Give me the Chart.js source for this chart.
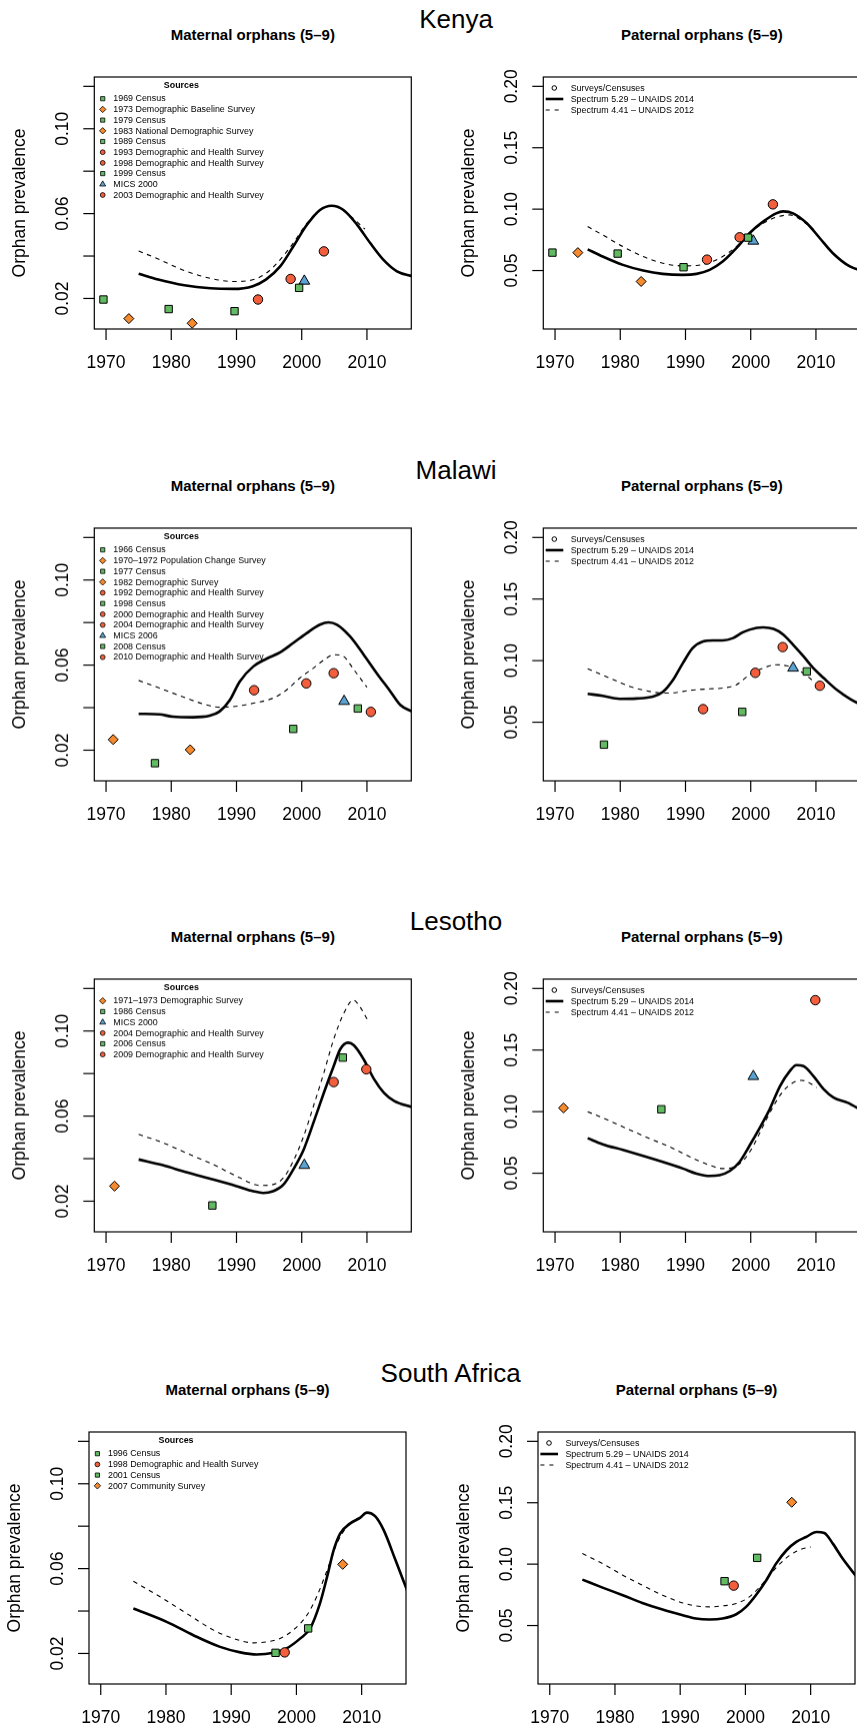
<!DOCTYPE html>
<html>
<head>
<meta charset="utf-8">
<script src="https://cdn.jsdelivr.net/npm/chart.js@4.4.1/dist/chart.umd.min.js"></script>
<style>
html,body{margin:0;padding:0;width:857px;height:1728px;overflow:hidden;background:#fff;}
body{position:relative;font-family:"Liberation Sans",Arial,Helvetica,sans-serif;}
canvas{position:absolute;}
.ttl{position:absolute;transform:translate(-50%,-50%);white-space:nowrap;color:#000;}
.country{font-size:26px;line-height:26px;}
.sub{font-size:15px;line-height:15px;font-weight:bold;}
</style>
</head>
<body>
<script>
// ---------------- DATA ----------------
const xTickYears = [1970, 1980, 1990, 2000, 2010];
const maternalTicks = [0.02, 0.04, 0.06, 0.08, 0.10, 0.12];
const maternalTickLabels = [0.02, 0.06, 0.10];
const paternalTicks = [0.05, 0.10, 0.15, 0.20];
const paternalTickLabels = [0.05, 0.10, 0.15, 0.20];
const countries = ['Kenya', 'Malawi', 'Lesotho', 'South Africa'];
const panelTitles = ['Maternal orphans (5–9)', 'Paternal orphans (5–9)'];
const modelLegend = ['Surveys/Censuses', 'Spectrum 5.29 – UNAIDS 2014', 'Spectrum 4.41 – UNAIDS 2012'];

// Kenya
const kenyaSources = ['1969 Census','1973 Demographic Baseline Survey','1979 Census','1983 National Demographic Survey','1989 Census','1993 Demographic and Health Survey','1998 Demographic and Health Survey','1999 Census','MICS 2000','2003 Demographic and Health Survey'];
const kenyaSourceTypes = ['census','survey','census','survey','census','dhs','dhs','census','mics','dhs'];
const kenyaSourceYears = [1969.6,1973.5,1979.6,1983.2,1989.7,1993.3,1998.3,1999.6,2000.4,2003.4];
const kenyaMaternalObs = [0.0195,0.0105,0.015,0.0083,0.014,0.0195,0.0292,0.025,0.0282,0.0422];
const kenyaPaternalObs = [0.0646,0.0646,0.0638,0.0411,0.0527,0.0589,0.0771,0.0768,0.074,0.1039];
const kenyaMatSolidYears = [1975,1978,1982,1986,1989.5,1992.5,1994.5,1996.7,1998.7,2000.8,2002.8,2004.6,2006.4,2008.5,2010.5,2012.5,2014.6,2017];
const kenyaMatSolid = [0.0317,0.0289,0.0262,0.0248,0.0245,0.0258,0.0289,0.0351,0.0445,0.0547,0.0617,0.0637,0.0617,0.0547,0.0461,0.0383,0.0328,0.0304];
const kenyaMatDashYears = [1975,1978.2,1982.3,1986.4,1989.5,1992.6,1994.6,1996.7,1998.7,2000.8,2002.8,2004.8,2006.8,2009.7];
const kenyaMatDash = [0.0424,0.0383,0.0328,0.0292,0.028,0.0289,0.032,0.0383,0.0461,0.0555,0.0617,0.0637,0.0605,0.0527];
const kenyaPatSolidYears = [1975,1977.3,1980.4,1983.5,1986.5,1989.6,1991.7,1993.7,1995.7,1997.8,1999.8,2001.9,2003.9,2005,2006.5,2008.6,2010.6,2012.6,2015.2,2017];
const kenyaPatSolid = [0.0673,0.0614,0.0546,0.05,0.0473,0.0465,0.0473,0.0505,0.0573,0.0682,0.0804,0.0898,0.0966,0.0982,0.0966,0.0885,0.0763,0.0641,0.0533,0.05];
const kenyaPatDashYears = [1975,1977.3,1980.4,1983.5,1986.5,1989.6,1991.7,1993.7,1995.7,1997.8,1999.8,2001.9,2003.9,2006,2008.1,2009.6];
const kenyaPatDash = [0.0858,0.079,0.0695,0.0614,0.056,0.0538,0.0541,0.0565,0.0614,0.0695,0.0804,0.0885,0.0934,0.0953,0.0898,0.0836];

// Malawi
const malawiSources = ['1966 Census','1970–1972 Population Change Survey','1977 Census','1982 Demographic Survey','1992 Demographic and Health Survey','1998 Census','2000 Demographic and Health Survey','2004 Demographic and Health Survey','MICS 2006','2008 Census','2010 Demographic and Health Survey'];
const malawiSourceTypes = ['census','survey','census','survey','dhs','census','dhs','dhs','mics','census','dhs'];
const malawiSourceYears = [1966,1971.1,1977.5,1982.9,1992.7,1998.7,2000.7,2004.9,2006.5,2008.6,2010.6];
const malawiMaternalObs = [null,0.025,0.0139,0.0202,0.0482,0.030,0.0514,0.0562,0.043,0.0396,0.038];
const malawiPaternalObs = [null,null,0.0318,null,0.0606,0.0584,0.0901,0.111,0.094,0.0912,0.0796];
const malawiMatSolidYears = [1975,1978.2,1980.2,1983.3,1985.9,1987.4,1989,1990.5,1992.6,1994.6,1996.7,1998.7,2000.8,2002.8,2004.1,2005.4,2007.4,2009.5,2011.5,2013.6,2015.1,2017];
const malawiMatSolid = [0.0371,0.0368,0.0358,0.0355,0.0362,0.0382,0.0437,0.0523,0.0594,0.063,0.066,0.0704,0.0751,0.079,0.0801,0.079,0.0735,0.0649,0.0562,0.0476,0.0413,0.038];
const malawiMatDashYears = [1975,1978.2,1982.3,1985.4,1987.4,1989.5,1992.6,1995.6,1997.7,1999.7,2001.8,2003.8,2004.9,2006.4,2008,2010];
const malawiMatDash = [0.0528,0.0492,0.0445,0.0413,0.0402,0.0405,0.0421,0.0445,0.0484,0.0539,0.0586,0.0633,0.0649,0.0641,0.0578,0.0496];
const malawiPatSolidYears = [1975,1977.3,1979.9,1982.5,1985,1986.5,1988.1,1989.6,1991.1,1992.7,1994.2,1995.7,1997.3,1998.8,2000.9,2001.9,2003.5,2005,2006.5,2008.1,2009.6,2011.2,2013.2,2015.3,2017];
const malawiPatSolid = [0.0731,0.0714,0.069,0.0693,0.0709,0.0744,0.0844,0.098,0.1102,0.1156,0.1164,0.1164,0.1183,0.123,0.1265,0.127,0.1257,0.1211,0.1129,0.1034,0.0939,0.0858,0.0763,0.0687,0.064];
const malawiPatDashYears = [1975,1978.4,1981.5,1984.5,1986.5,1988.6,1990.6,1993.7,1995.7,1997.8,1999.8,2001.9,2003.9,2005.5,2006.5,2008.1,2009.8];
const malawiPatDash = [0.0934,0.0858,0.079,0.075,0.0736,0.0741,0.0758,0.0771,0.0777,0.0804,0.0885,0.0939,0.0966,0.0958,0.094,0.0898,0.0825];

// Lesotho
const lesothoSources = ['1971–1973 Demographic Survey','1986 Census','MICS 2000','2004 Demographic and Health Survey','2006 Census','2009 Demographic and Health Survey'];
const lesothoSourceTypes = ['survey','census','mics','dhs','census','dhs'];
const lesothoSourceYears = [1971.3,1986.3,2000.4,2004.9,2006.3,2009.9];
const lesothoMaternalObs = [0.0271,0.018,0.0369,0.076,0.0875,0.082];
const lesothoPaternalObs = [0.103,0.1019,0.1286,null,null,0.1905];
const lesothoMatSolidYears = [1975,1978.7,1982.3,1986.4,1990,1992.6,1994.1,1995.6,1997.2,1998.7,2000.3,2001.8,2003.4,2004.9,2005.9,2007.1,2008,2009.5,2011.1,2012.6,2014.2,2017];
const lesothoMatSolid = [0.0396,0.0369,0.0336,0.0302,0.0271,0.0247,0.0239,0.0247,0.0278,0.0349,0.0443,0.0569,0.071,0.0835,0.0914,0.0945,0.0933,0.0867,0.0773,0.071,0.0671,0.0642];
const lesothoMatDashYears = [1975,1978.7,1982.3,1986.4,1990.5,1993.6,1995.6,1997.2,1998.7,2000.3,2001.8,2003.4,2004.9,2006.5,2007.9,2009,2010.1];
const lesothoMatDash = [0.0514,0.0475,0.0427,0.0373,0.031,0.0274,0.0278,0.031,0.0388,0.0506,0.0647,0.0804,0.0961,0.1086,0.1146,0.111,0.1052];
const lesothoPatSolidYears = [1975,1977.3,1980.4,1983.5,1986.5,1989.6,1991.7,1993.7,1995.2,1996.8,1998.3,1999.8,2001.4,2002.9,2004.5,2006,2007,2008.1,2009.6,2011.2,2012.7,2014.8,2017];
const lesothoPatSolid = [0.0784,0.0735,0.0689,0.0641,0.0592,0.0538,0.0497,0.0478,0.0484,0.0519,0.0592,0.0722,0.087,0.1019,0.1208,0.133,0.1378,0.137,0.1289,0.1181,0.1114,0.1073,0.101];
const lesothoPatDashYears = [1975,1978.4,1981.5,1984.5,1987.6,1990.6,1993.7,1995.7,1997.3,1998.8,2000.4,2001.9,2003.5,2005,2006.5,2007.8,2009.1,2010.1];
const lesothoPatDash = [0.1,0.0924,0.0851,0.0781,0.0714,0.0635,0.0565,0.0538,0.0546,0.06,0.0722,0.0884,0.1046,0.1168,0.1235,0.1254,0.123,0.1195];

// South Africa
const saSources = ['1996 Census','1998 Demographic and Health Survey','2001 Census','2007 Community Survey'];
const saSourceTypes = ['census','dhs','census','survey'];
const saSourceYears = [1996.8,1998.2,2001.8,2007.1];
const saMaternalObs = [0.0203,0.0205,0.0318,0.062];
const saPaternalObs = [0.0861,0.0825,0.1051,0.1504];
const saMatSolidYears = [1975,1980.1,1984.2,1988.3,1991.4,1993.9,1996.5,1998.5,2000.6,2002.1,2003.6,2004.7,2005.7,2006.7,2008.2,2009.8,2010.8,2012.1,2013.4,2015.2,2017];
const saMatSolid = [0.0412,0.0349,0.0286,0.0231,0.0205,0.0195,0.0203,0.0224,0.0271,0.0318,0.0435,0.0561,0.0686,0.0765,0.0812,0.084,0.0864,0.0846,0.078,0.0639,0.0495];
const saMatDashYears = [1975,1979.1,1983.2,1987.3,1990.3,1993.4,1995.5,1997.5,1999.5,2001.6,2003.1,2004.7,2006.2,2007.7,2009.5];
const saMatDash = [0.054,0.0467,0.0388,0.031,0.0271,0.025,0.0255,0.0271,0.031,0.038,0.0467,0.0592,0.0718,0.0796,0.084];
const saPatSolidYears = [1975,1978.1,1981.2,1984.2,1987.3,1990.4,1992.4,1994.5,1996.5,1998.6,2000.1,2001.6,2003.2,2004.7,2006.3,2007.8,2009.3,2010.9,2012.1,2013.4,2014.9,2017];
const saPatSolid = [0.0874,0.0809,0.0747,0.0684,0.063,0.0584,0.0557,0.0549,0.0557,0.0592,0.0652,0.0747,0.0869,0.1004,0.1113,0.1181,0.1221,0.1262,0.1254,0.1167,0.1045,0.09];
const saPatDashYears = [1975,1978.1,1981.2,1984.2,1987.3,1990.4,1992.4,1994.5,1996.5,1998.6,2000.6,2002.2,2003.7,2005.3,2006.8,2008.4,2010];
const saPatDash = [0.1086,0.1004,0.091,0.0828,0.0747,0.0684,0.066,0.0652,0.066,0.0679,0.0733,0.0815,0.091,0.1004,0.1072,0.1118,0.114];

// ---------------- STYLE / LAYOUT ----------------
const FONT = '"Liberation Sans", Arial, Helvetica, sans-serif';
const TYPE_STYLE = {
  census: {pointStyle: 'rect', radius: 5.2, legR: 2.8, color: '#62BB62'},
  survey: {pointStyle: 'rectRot', radius: 5, legR: 3.2, color: '#F68A2E'},
  dhs:    {pointStyle: 'circle', radius: 4.7, legR: 2.4, color: '#F35F3D'},
  mics:   {pointStyle: 'triangle', radius: 6.2, legR: 3.4, color: '#5AA2D2'}
};
const BOX_H = 252.3;
const rowTops = [77, 528.3, 979.3, 1431.7];
const rowShift = [0, 0, 0, -5.3];
const sideBox = [[94.3, 411.3], [543.3, 860.3]];
const XMIN = 1968.2, XMAX = 2016.8;
const YR_MAT = [0.0056, 0.1244];
const YR_PAT = [0.0024, 0.2076];

const countryData = [
  {src: kenyaSources, types: kenyaSourceTypes, years: kenyaSourceYears, obs: [kenyaMaternalObs, kenyaPaternalObs],
   solid: [[kenyaMatSolidYears, kenyaMatSolid], [kenyaPatSolidYears, kenyaPatSolid]],
   dash: [[kenyaMatDashYears, kenyaMatDash], [kenyaPatDashYears, kenyaPatDash]]},
  {src: malawiSources, types: malawiSourceTypes, years: malawiSourceYears, obs: [malawiMaternalObs, malawiPaternalObs],
   solid: [[malawiMatSolidYears, malawiMatSolid], [malawiPatSolidYears, malawiPatSolid]],
   dash: [[malawiMatDashYears, malawiMatDash], [malawiPatDashYears, malawiPatDash]]},
  {src: lesothoSources, types: lesothoSourceTypes, years: lesothoSourceYears, obs: [lesothoMaternalObs, lesothoPaternalObs],
   solid: [[lesothoMatSolidYears, lesothoMatSolid], [lesothoPatSolidYears, lesothoPatSolid]],
   dash: [[lesothoMatDashYears, lesothoMatDash], [lesothoPatDashYears, lesothoPatDash]]},
  {src: saSources, types: saSourceTypes, years: saSourceYears, obs: [saMaternalObs, saPaternalObs],
   solid: [[saMatSolidYears, saMatSolid], [saPatSolidYears, saPatSolid]],
   dash: [[saMatDashYears, saMatDash], [saPatDashYears, saPatDash]]}
];

function drawSymbol(ctx, type, x, y, r) {
  const st = TYPE_STYLE[type];
  ctx.beginPath();
  if (type === 'census') { ctx.rect(x - r * 0.75, y - r * 0.75, r * 1.5, r * 1.5); }
  else if (type === 'survey') { ctx.moveTo(x - r, y); ctx.lineTo(x, y - r); ctx.lineTo(x + r, y); ctx.lineTo(x, y + r); ctx.closePath(); }
  else if (type === 'dhs') { ctx.arc(x, y, r, 0, Math.PI * 2); }
  else { ctx.moveTo(x, y - r); ctx.lineTo(x + r * 0.866, y + r * 0.5); ctx.lineTo(x - r * 0.866, y + r * 0.5); ctx.closePath(); }
  ctx.fillStyle = st.color; ctx.fill();
  ctx.lineWidth = 0.8; ctx.strokeStyle = '#000'; ctx.stroke();
}

const rAxes = {
  id: 'rAxes',
  afterDraw(chart, args, o) {
    const {ctx, chartArea: a, scales: {x, y}} = chart;
    ctx.save();
    ctx.strokeStyle = '#000'; ctx.fillStyle = '#000';
    ctx.lineWidth = 1.2;
    ctx.strokeRect(a.left, a.top, a.right - a.left, a.bottom - a.top);
    // x axis ticks
    ctx.font = '17.5px ' + FONT;
    ctx.textAlign = 'center'; ctx.textBaseline = 'middle';
    xTickYears.forEach(t => {
      const px = x.getPixelForValue(t);
      ctx.beginPath(); ctx.moveTo(px, a.bottom); ctx.lineTo(px, a.bottom + 11); ctx.stroke();
      ctx.fillText(String(t), px, a.bottom + 34.5);
    });
    // y axis ticks
    o.yTicks.forEach(t => {
      const py = y.getPixelForValue(t);
      ctx.beginPath(); ctx.moveTo(a.left - 11, py); ctx.lineTo(a.left, py); ctx.stroke();
    });
    o.yLabels.forEach(t => {
      const py = y.getPixelForValue(t);
      ctx.save(); ctx.translate(a.left - 31, py); ctx.rotate(-Math.PI / 2);
      ctx.fillText(t.toFixed(2), 0, 0); ctx.restore();
    });
    ctx.save(); ctx.translate(a.left - 74, (a.top + a.bottom) / 2); ctx.rotate(-Math.PI / 2);
    ctx.fillText('Orphan prevalence', 0, 0); ctx.restore();
    // legends
    if (o.side === 0) {
      ctx.font = 'bold 8.9px ' + FONT;
      ctx.fillText('Sources', a.left + 87, a.top + 8.3);
      ctx.font = '8.9px ' + FONT; ctx.textAlign = 'left';
      o.src.forEach((s, i) => {
        const yy = a.top + 21.7 + i * 10.7;
        drawSymbol(ctx, o.types[i], a.left + 8.4, yy, TYPE_STYLE[o.types[i]].legR);
        ctx.fillStyle = '#000';
        ctx.fillText(s, a.left + 19, yy + 0.3);
      });
    } else {
      ctx.font = '8.9px ' + FONT; ctx.textAlign = 'left';
      const y1 = a.top + 11, y2 = a.top + 22, y3 = a.top + 33;
      ctx.beginPath(); ctx.arc(a.left + 11, y1, 2.3, 0, Math.PI * 2); ctx.lineWidth = 1; ctx.stroke();
      ctx.beginPath(); ctx.moveTo(a.left + 2.4, y2); ctx.lineTo(a.left + 20, y2); ctx.lineWidth = 2.6; ctx.stroke();
      ctx.beginPath(); ctx.setLineDash([4, 5]); ctx.moveTo(a.left + 2.4, y3); ctx.lineTo(a.left + 20, y3); ctx.lineWidth = 1.1; ctx.stroke();
      ctx.setLineDash([]);
      ctx.fillText(modelLegend[0], a.left + 27.4, y1 + 0.3);
      ctx.fillText(modelLegend[1], a.left + 27.4, y2 + 0.3);
      ctx.fillText(modelLegend[2], a.left + 27.4, y3 + 0.3);
    }
    ctx.restore();
  }
};

function addDiv(cls, text, cx, cy) {
  const d = document.createElement('div');
  d.className = 'ttl ' + cls; d.textContent = text;
  d.style.left = cx + 'px'; d.style.top = cy + 'px';
  document.body.appendChild(d);
}

countries.forEach((name, r) => {
  const top = rowTops[r], sh = rowShift[r];
  const cd = countryData[r];
  addDiv('country', name, 456 + sh, top - 58.5);
  [0, 1].forEach(side => {
    const bl = sideBox[side][0] + sh, br = sideBox[side][1] + sh;
    addDiv('sub', panelTitles[side], (bl + br) / 2, top - 43);
    const cLeft = side === 0 ? 0 : 430;
    const cW = side === 0 ? 430 : 445;
    const cTop = top - 20, cH = BOX_H + 20 + 60;
    const cv = document.createElement('canvas');
    cv.width = cW; cv.height = cH;
    cv.style.left = cLeft + 'px'; cv.style.top = cTop + 'px';
    cv.style.width = cW + 'px'; cv.style.height = cH + 'px';
    document.body.appendChild(cv);

    const obs = cd.obs[side];
    const datasets = [];
    ['census', 'survey', 'dhs', 'mics'].forEach(tp => {
      const pts = [];
      cd.types.forEach((t, i) => { if (t === tp && obs[i] !== null) pts.push({x: cd.years[i], y: obs[i]}); });
      if (!pts.length) return;
      const st = TYPE_STYLE[tp];
      datasets.push({type: 'scatter', data: pts, pointStyle: st.pointStyle, pointRadius: st.radius,
        backgroundColor: st.color, borderColor: '#000', pointBorderWidth: 1, borderWidth: 1, clip: false});
    });
    const mk = (arr) => arr[0].map((yr, i) => ({x: yr, y: arr[1][i]}));
    datasets.push({type: 'line', data: mk(cd.solid[side]), borderColor: '#000', borderWidth: 2.6,
      pointRadius: 0, showLine: true, fill: false, cubicInterpolationMode: 'monotone', clip: 0});
    datasets.push({type: 'line', data: mk(cd.dash[side]), borderColor: '#000', borderWidth: 1.1, borderDash: [4.5, 4.5],
      pointRadius: 0, showLine: true, fill: false, cubicInterpolationMode: 'monotone', clip: 0});

    const yr = side === 0 ? YR_MAT : YR_PAT;
    new Chart(cv, {
      type: 'scatter',
      data: {datasets},
      options: {
        responsive: false, animation: false, events: [], devicePixelRatio: 1,
        layout: {padding: {left: bl - cLeft, right: cW - (br - cLeft), top: 20, bottom: 60}},
        plugins: {
          legend: {display: false}, tooltip: {enabled: false}, title: {display: false},
          rAxes: {side, yTicks: side === 0 ? maternalTicks : paternalTicks,
                  yLabels: side === 0 ? maternalTickLabels : paternalTickLabels,
                  src: cd.src, types: cd.types}
        },
        scales: {
          x: {type: 'linear', min: XMIN, max: XMAX, display: false},
          y: {type: 'linear', min: yr[0], max: yr[1], display: false}
        }
      },
      plugins: [rAxes]
    });
  });
});
</script>
</body>
</html>
